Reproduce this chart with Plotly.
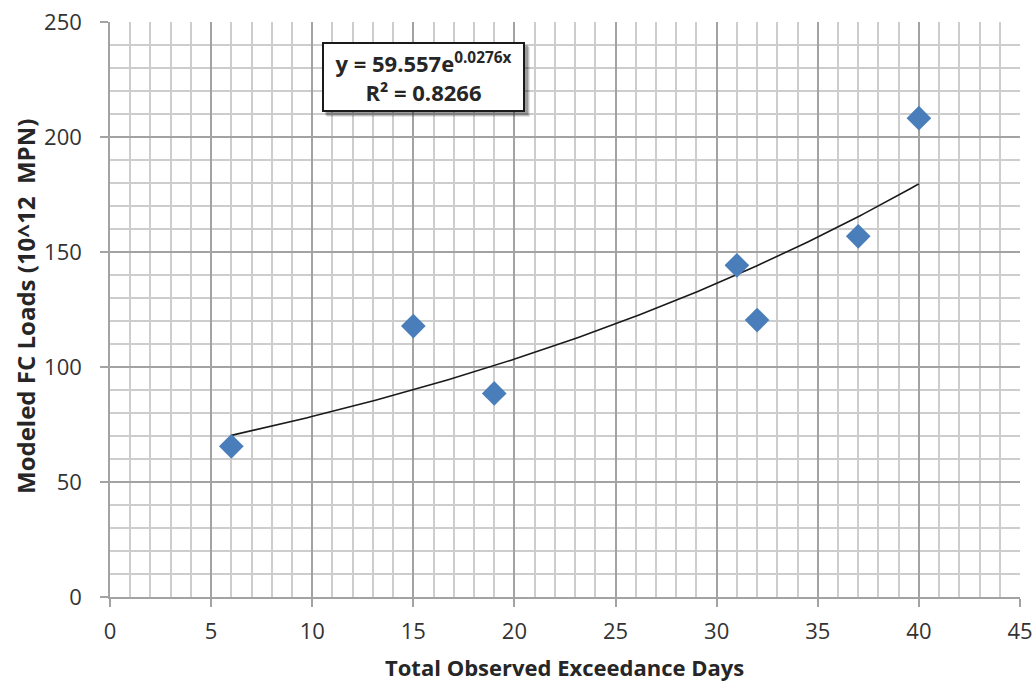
import numpy as np
import plotly.graph_objects as go

# Data
days = [6, 15, 19, 31, 32, 37, 40]
loads = [65.5, 117.8, 88.5, 144.2, 120.4, 156.8, 208.2]

# Trendline coefficients (as printed on the chart)
fit_a = 59.557
fit_b = 0.0276
r2 = 0.8266

x_ticks = [0, 5, 10, 15, 20, 25, 30, 35, 40, 45]
y_ticks = [0, 50, 100, 150, 200, 250]

xf = np.linspace(min(days), max(days), 200)
yf = fit_a * np.exp(fit_b * xf)

FONT = "Open Sans"
TXT = "#333333"
MAJ = "#a3a3a3"
MIN = "#cdcdcd"

W, H = 1036, 682
L, T = 110, 22
PW, PH = 910, 575
R, B = W - L - PW, H - T - PH


def px(xp):  # page pixel x -> paper
    return (xp - L) / PW


def py(yp):  # page pixel y -> paper
    return (T + PH - yp) / PH


fig = go.Figure()
fig.add_trace(go.Scatter(x=xf, y=yf, mode="lines",
                         line=dict(color="#1a1a1a", width=1.6),
                         showlegend=False, hoverinfo="skip"))
fig.add_trace(go.Scatter(x=days, y=loads, mode="markers",
                         marker=dict(symbol="diamond", size=19, color="#4A7EBB",
                                     line=dict(width=0)),
                         showlegend=False))

# equation box shadow
for off, alpha in [(5, 0.10), (4, 0.15), (3, 0.2)]:
    fig.add_shape(type="rect", xref="paper", yref="paper",
                  x0=px(322 + off), x1=px(525 + off),
                  y0=py(112 + off), y1=py(42 + off),
                  fillcolor=f"rgba(0,0,0,{alpha})", line=dict(width=0), layer="above")
fig.add_annotation(x=px(423.5), y=py(77), xref="paper", yref="paper",
                   xanchor="center", yanchor="middle",
                   text=f"<b>y = {fit_a}e<sup>{fit_b}x</sup></b><br><b>R² = {r2}</b>",
                   showarrow=False, align="center",
                   font=dict(family=FONT, size=22, color="#262626"),
                   bgcolor="white", bordercolor="#1a1a1a", borderwidth=2,
                   borderpad=0, width=199, height=66)

# axis titles
fig.add_annotation(x=px(564), y=py(667), xref="paper", yref="paper",
                   text="<b>Total Observed Exceedance Days</b>", showarrow=False,
                   font=dict(family=FONT, size=22, color="#262626"),
                   xanchor="center", yanchor="middle")
fig.add_annotation(x=px(25), y=py(307), xref="paper", yref="paper",
                   text="<b>Modeled FC Loads (10^12  MPN)</b>", showarrow=False,
                   textangle=-90,
                   font=dict(family=FONT, size=24, color="#262626"),
                   xanchor="center", yanchor="middle")

fig.update_layout(
    width=W, height=H,
    margin=dict(l=L, r=R, t=T, b=B, autoexpand=False),
    paper_bgcolor="white", plot_bgcolor="white",
    font=dict(family=FONT, size=22, color=TXT),
    xaxis=dict(range=[0, 45], tickvals=x_ticks, ticks="outside", ticklen=8,
               tickcolor=MAJ, tickwidth=1.5, automargin=False,
               showgrid=True, gridcolor=MAJ, gridwidth=1.5,
               minor=dict(dtick=1, showgrid=True, gridcolor=MIN, gridwidth=1.5),
               showline=True, linecolor=MAJ, linewidth=1.5, zeroline=False,
               tickfont=dict(size=22, color=TXT), ticklabelstandoff=6),
    yaxis=dict(range=[0, 250], tickvals=y_ticks, ticks="outside", ticklen=8,
               tickcolor=MAJ, tickwidth=1.5, automargin=False,
               showgrid=True, gridcolor=MAJ, gridwidth=1.5,
               minor=dict(dtick=10, showgrid=True, gridcolor=MIN, gridwidth=1.5),
               showline=True, linecolor=MAJ, linewidth=1.5, zeroline=False,
               tickfont=dict(size=22, color=TXT), ticklabelstandoff=14),
)

fig.write_html("out.html", config={"displayModeBar": False},
               post_script="document.body.style.margin='0';document.body.style.overflow='hidden';")
